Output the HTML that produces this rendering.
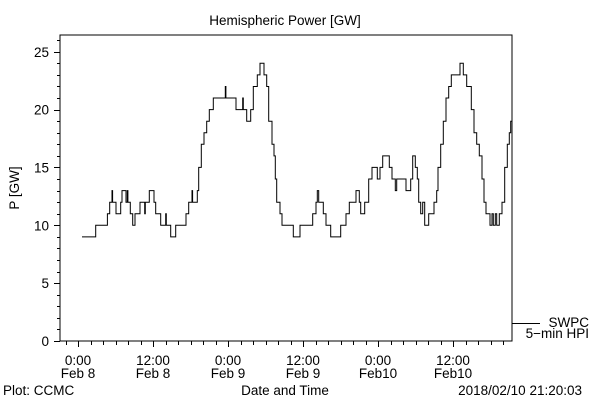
<!DOCTYPE html>
<html><head><meta charset="utf-8"><style>
body{margin:0;background:#fff;}
svg{display:block;font-family:"Liberation Sans",sans-serif;}
text{fill:#000;font-size:13.5px;}
</style></head><body>
<svg id="c" width="600" height="400"></svg>
<script>
// data: hours since 0:00 Feb 8 (step breakpoints) and power in GW
const hours=[0.64,2.83,4.7,5.07,5.44,5.54,5.87,6.08,6.83,7.04,7.68,7.89,7.99,8.11,8.37,8.75,9.12,9.92,10.67,10.77,10.99,11.41,12.16,12.43,13.23,14.03,14.13,14.24,14.83,15.63,17.28,17.71,18.24,18.34,18.45,19.09,19.31,19.73,20.16,20.59,21.01,21.65,23.57,23.67,25.28,26.35,26.45,26.56,26.99,27.63,28.05,28.69,29.12,29.76,30.19,30.51,31.04,31.36,31.57,31.79,32.32,32.64,34.45,35.52,37.55,38.08,38.29,38.51,39.25,39.68,40.43,42.03,42.88,43.41,44.48,45.01,45.23,45.87,46.51,47.04,47.89,48.32,48.75,49.81,50.24,50.77,50.99,52.48,53.23,53.55,53.97,54.29,54.51,54.83,55.15,55.47,56.11,56.96,57.39,57.6,58.03,58.45,58.88,59.31,59.73,61.12,61.65,62.19,62.93,63.36,63.79,64.21,64.64,64.96,65.28,65.92,66.24,66.45,66.77,66.99,67.41,67.84,68.27,68.69,69.01,69.23,69.44];
const power=[9,10,11,12,13,12,12,11,12,13,12,13,12,12,11,10,11,12,11,12,12,13,12,11,10,11,10,10,9,10,11,12,13,12,12,13,15,17,18,19,20,21,22,21,20,21,20,20,19,20,22,23,24,23,22,19,17,16,14,12,11,10,9,10,11,12,13,12,11,10,9,10,11,12,13,12,11,12,14,15,14,15,16,15,14,13,14,13,14,16,15,14,12,11,12,10,11,12,13,15,17,19,21,22,23,24,23,22,20,18,17,16,14,12,11,10,11,10,11,10,11,12,15,17,18,19,19];
const yTicks=[0,5,10,15,20,25];
const xTickHours=[0,12,24,36,48,60];
const xTickTop=["0:00","12:00","0:00","12:00","0:00","12:00"];
const xTickBot=["Feb 8","Feb 8","Feb 9","Feb 9","Feb10","Feb10"];

const NS="http://www.w3.org/2000/svg";
const svg=document.getElementById('c');
const L=60,R=512,T=35,B=341;
const X=h=>78+h*6.25;
const Y=v=>B-v*11.57;
function mk(tag,at,txt){const e=document.createElementNS(NS,tag);for(const k in at)e.setAttribute(k,at[k]);if(txt!==undefined)e.textContent=txt;svg.appendChild(e);return e;}

let e=mk('rect',{x:L,y:T,width:R-L,height:B-T,fill:'none',stroke:'#000','stroke-width':1});



for(let v=0;v<=26;v++){
  const y=Math.round(Y(v))+0.5;
  const major=v%5===0;
  e=mk('line',{x1:L-(major?6:3),x2:L,y1:y,y2:y,stroke:'#000'});
  
  
}
yTicks.forEach(v=>{
  e=mk('text',{x:L-11,y:Y(v)+5,'text-anchor':'end'},String(v));
  
  
});
for(let h=-2;h<=68;h+=2){
  const x=Math.round(X(h))+0.5;
  const major=h%12===0;
  e=mk('line',{x1:x,x2:x,y1:B,y2:B+(major?6:4),stroke:'#000'});
  
  
}
xTickHours.forEach((h,i)=>{
  e=mk('text',{x:X(h),y:365,'text-anchor':'middle'},xTickTop[i]);
  
  
  e=mk('text',{x:X(h),y:378,'text-anchor':'middle'},xTickBot[i]);
  
  
});
let d='';
for(let i=0;i<hours.length;i++){
  const x=X(hours[i]).toFixed(1),y=Y(power[i]).toFixed(1);
  if(i===0)d+='M'+x+' '+y;else d+='H'+x+'V'+y;
}
d+='H'+R;
e=mk('path',{d:d,fill:'none',stroke:'#000','stroke-width':1});



e=mk('text',{x:285,y:25,'text-anchor':'middle','font-size':'15'},'Hemispheric Power [GW]');


e=mk('text',{x:0,y:0,'text-anchor':'middle',transform:'translate(19,188) rotate(-90)'},'P [GW]');


e=mk('text',{x:285,y:395,'text-anchor':'middle'},'Date and Time');


e=mk('text',{x:3,y:395},'Plot: CCMC');


e=mk('text',{x:582,y:395,'text-anchor':'end'},'2018/02/10 21:20:03');


e=mk('line',{x1:512,x2:540,y1:323.5,y2:323.5,stroke:'#000'});


e=mk('text',{x:589,y:327,'text-anchor':'end'},'SWPC');


e=mk('text',{x:589,y:338,'text-anchor':'end'},'5−min HPI');


</script>
</body></html>
